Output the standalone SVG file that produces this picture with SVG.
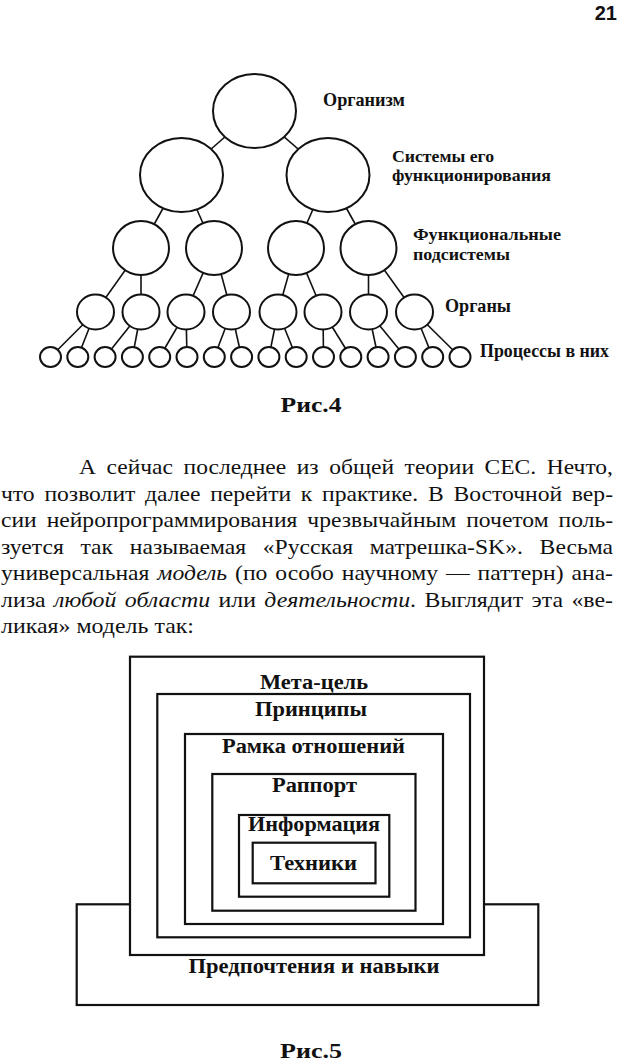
<svg xmlns="http://www.w3.org/2000/svg" width="620" height="1062" viewBox="0 0 620 1062">
<style>
.nd{fill:#fff;stroke:#111;stroke-width:2}
.cn line{stroke:#111;stroke-width:1.6}
.lbl{font-family:"Liberation Serif","Times New Roman",serif;font-weight:bold;fill:#111}
.tl{font-size:19px}
.t2{font-size:17.5px}
.cap{font-size:22px;text-anchor:middle}
.bl{font-size:20px;text-anchor:middle}
.body{font-family:"Liberation Serif","Times New Roman",serif;font-size:21px;fill:#111}
.it{font-style:italic}
.box{fill:#fff;stroke:#111;stroke-width:2.2}
</style>
<rect width="620" height="1062" fill="#fff"/>
<text x="617" y="20" font-family="Liberation Sans, Arial, sans-serif" font-weight="bold" font-size="20" text-anchor="end" fill="#111">21</text>

<g id="connectors" class="cn">
<line x1="254.5" y1="111" x2="181.5" y2="175"/>
<line x1="254.5" y1="111" x2="328" y2="175"/>
<line x1="181.5" y1="175" x2="141" y2="248"/>
<line x1="181.5" y1="175" x2="214" y2="248"/>
<line x1="328" y1="175" x2="296" y2="248"/>
<line x1="328" y1="175" x2="368.5" y2="248"/>
<line x1="141" y1="248" x2="95.5" y2="312"/>
<line x1="141" y1="248" x2="141" y2="312"/>
<line x1="214" y1="248" x2="186" y2="312"/>
<line x1="214" y1="248" x2="231.5" y2="312"/>
<line x1="296" y1="248" x2="278" y2="312"/>
<line x1="296" y1="248" x2="323" y2="312"/>
<line x1="368.5" y1="248" x2="368.5" y2="312"/>
<line x1="368.5" y1="248" x2="414.5" y2="312"/>
<line x1="95.5" y1="312" x2="50.5" y2="357"/>
<line x1="95.5" y1="312" x2="77.8" y2="357"/>
<line x1="141" y1="312" x2="105.1" y2="357"/>
<line x1="141" y1="312" x2="132.4" y2="357"/>
<line x1="186" y1="312" x2="159.7" y2="357"/>
<line x1="186" y1="312" x2="187" y2="357"/>
<line x1="231.5" y1="312" x2="214.3" y2="357"/>
<line x1="231.5" y1="312" x2="241.6" y2="357"/>
<line x1="278" y1="312" x2="268.9" y2="357"/>
<line x1="278" y1="312" x2="296.2" y2="357"/>
<line x1="323" y1="312" x2="323.5" y2="357"/>
<line x1="323" y1="312" x2="350.8" y2="357"/>
<line x1="368.5" y1="312" x2="378.1" y2="357"/>
<line x1="368.5" y1="312" x2="405.4" y2="357"/>
<line x1="414.5" y1="312" x2="432.7" y2="357"/>
<line x1="414.5" y1="312" x2="460" y2="357"/>
</g>

<g id="organism"><ellipse class="nd" cx="254.5" cy="111" rx="41.5" ry="37"/></g>
<g id="system-1"><ellipse class="nd" cx="181.5" cy="175" rx="41.5" ry="37"/></g>
<g id="system-2"><ellipse class="nd" cx="328" cy="175" rx="41.5" ry="37"/></g>
<g id="subsystem-1"><ellipse class="nd" cx="141" cy="248" rx="28" ry="27"/></g>
<g id="subsystem-2"><ellipse class="nd" cx="214" cy="248" rx="28" ry="27"/></g>
<g id="subsystem-3"><ellipse class="nd" cx="296" cy="248" rx="28" ry="27"/></g>
<g id="subsystem-4"><ellipse class="nd" cx="368.5" cy="248" rx="28" ry="27"/></g>
<g id="organ-1"><ellipse class="nd" cx="95.5" cy="312" rx="18.5" ry="17.5"/></g>
<g id="organ-2"><ellipse class="nd" cx="141" cy="312" rx="18.5" ry="17.5"/></g>
<g id="organ-3"><ellipse class="nd" cx="186" cy="312" rx="18.5" ry="17.5"/></g>
<g id="organ-4"><ellipse class="nd" cx="231.5" cy="312" rx="18.5" ry="17.5"/></g>
<g id="organ-5"><ellipse class="nd" cx="278" cy="312" rx="18.5" ry="17.5"/></g>
<g id="organ-6"><ellipse class="nd" cx="323" cy="312" rx="18.5" ry="17.5"/></g>
<g id="organ-7"><ellipse class="nd" cx="368.5" cy="312" rx="18.5" ry="17.5"/></g>
<g id="organ-8"><ellipse class="nd" cx="414.5" cy="312" rx="18.5" ry="17.5"/></g>
<g id="process-1"><ellipse class="nd" cx="50.5" cy="357" rx="10.5" ry="10"/></g>
<g id="process-2"><ellipse class="nd" cx="77.8" cy="357" rx="10.5" ry="10"/></g>
<g id="process-3"><ellipse class="nd" cx="105.1" cy="357" rx="10.5" ry="10"/></g>
<g id="process-4"><ellipse class="nd" cx="132.4" cy="357" rx="10.5" ry="10"/></g>
<g id="process-5"><ellipse class="nd" cx="159.7" cy="357" rx="10.5" ry="10"/></g>
<g id="process-6"><ellipse class="nd" cx="187" cy="357" rx="10.5" ry="10"/></g>
<g id="process-7"><ellipse class="nd" cx="214.3" cy="357" rx="10.5" ry="10"/></g>
<g id="process-8"><ellipse class="nd" cx="241.6" cy="357" rx="10.5" ry="10"/></g>
<g id="process-9"><ellipse class="nd" cx="268.9" cy="357" rx="10.5" ry="10"/></g>
<g id="process-10"><ellipse class="nd" cx="296.2" cy="357" rx="10.5" ry="10"/></g>
<g id="process-11"><ellipse class="nd" cx="323.5" cy="357" rx="10.5" ry="10"/></g>
<g id="process-12"><ellipse class="nd" cx="350.8" cy="357" rx="10.5" ry="10"/></g>
<g id="process-13"><ellipse class="nd" cx="378.1" cy="357" rx="10.5" ry="10"/></g>
<g id="process-14"><ellipse class="nd" cx="405.4" cy="357" rx="10.5" ry="10"/></g>
<g id="process-15"><ellipse class="nd" cx="432.7" cy="357" rx="10.5" ry="10"/></g>
<g id="process-16"><ellipse class="nd" cx="460" cy="357" rx="10.5" ry="10"/></g>

<g id="level-labels" class="lbl">
<text class="tl" x="323" y="106" textLength="82" lengthAdjust="spacingAndGlyphs">Организм</text>
<text class="t2"><tspan x="392" y="161.5" textLength="102" lengthAdjust="spacingAndGlyphs">Системы его</tspan><tspan x="392" y="181" textLength="159" lengthAdjust="spacingAndGlyphs">функционирования</tspan></text>
<text class="t2"><tspan x="413" y="240" textLength="148" lengthAdjust="spacingAndGlyphs">Функциональные</tspan><tspan x="413" y="259.5" textLength="97" lengthAdjust="spacingAndGlyphs">подсистемы</tspan></text>
<text class="tl" x="445" y="312" textLength="66" lengthAdjust="spacingAndGlyphs">Органы</text>
<text class="tl" x="480" y="357" textLength="129" lengthAdjust="spacingAndGlyphs">Процессы в них</text>
</g>

<text class="lbl cap" x="311" y="412" textLength="61" lengthAdjust="spacingAndGlyphs">Рис.4</text>

<g id="paragraph" class="body">
<text x="79" y="474" word-spacing="4.2" textLength="534" lengthAdjust="spacingAndGlyphs">А сейчас последнее из общей теории СЕС. Нечто,</text>
<text x="1" y="500.5" word-spacing="3.4" textLength="612" lengthAdjust="spacingAndGlyphs">что позволит далее перейти к практике. В Восточной вер-</text>
<text x="1" y="527" word-spacing="3.65" textLength="612" lengthAdjust="spacingAndGlyphs">сии нейропрограммирования чрезвычайным почетом поль-</text>
<text x="1" y="553.5" word-spacing="9.6" textLength="612" lengthAdjust="spacingAndGlyphs">зуется так называемая «Русская матрешка-SK». Весьма</text>
<text x="1" y="580" word-spacing="1.8" textLength="612" lengthAdjust="spacingAndGlyphs">универсальная <tspan class="it">модель</tspan> (по особо научному — паттерн) ана-</text>
<text x="1" y="606.5" word-spacing="2.2" textLength="612" lengthAdjust="spacingAndGlyphs">лиза <tspan class="it">любой области</tspan> или <tspan class="it">деятельности</tspan>. Выглядит эта «ве-</text>
<text x="1" y="633" textLength="193" lengthAdjust="spacingAndGlyphs">ликая» модель так:</text>
</g>

<g id="preferences-skills">
<rect class="box" x="76.7" y="904.3" width="461.6" height="100.7"/>
<text class="lbl bl" x="314" y="973" textLength="251" lengthAdjust="spacingAndGlyphs">Предпочтения и навыки</text>
</g>
<g id="meta-goal">
<rect class="box" x="130" y="656.7" width="354" height="298.3"/>
<text class="lbl bl" x="314" y="689" textLength="108" lengthAdjust="spacingAndGlyphs">Мета-цель</text>
</g>
<g id="principles">
<rect class="box" x="157.3" y="694" width="312.7" height="243.3"/>
<text class="lbl bl" x="311" y="716" textLength="112" lengthAdjust="spacingAndGlyphs">Принципы</text>
</g>
<g id="relations-frame">
<rect class="box" x="185" y="734" width="258" height="190"/>
<text class="lbl bl" x="313.5" y="753" textLength="183" lengthAdjust="spacingAndGlyphs">Рамка отношений</text>
</g>
<g id="rapport">
<rect class="box" x="212.3" y="774" width="203.2" height="136.7"/>
<text class="lbl bl" x="314.5" y="792" textLength="85" lengthAdjust="spacingAndGlyphs">Раппорт</text>
</g>
<g id="information">
<rect class="box" x="239" y="815" width="150.3" height="81.7"/>
<text class="lbl bl" x="314" y="831" textLength="132" lengthAdjust="spacingAndGlyphs">Информация</text>
</g>
<g id="techniques">
<rect class="box" x="252.7" y="842.7" width="122.8" height="40.6"/>
<text class="lbl bl" x="313.5" y="870" textLength="87" lengthAdjust="spacingAndGlyphs">Техники</text>
</g>

<text class="lbl cap" x="311" y="1058" textLength="62" lengthAdjust="spacingAndGlyphs">Рис.5</text>
</svg>
